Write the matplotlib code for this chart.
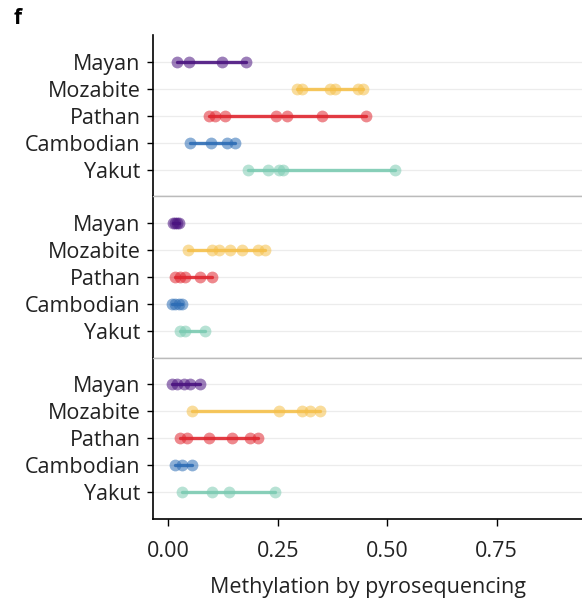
import matplotlib.pyplot as plt

plt.rcParams['font.family'] = ['Open Sans', 'DejaVu Sans']

groups = ['Mayan', 'Mozabite', 'Pathan', 'Cambodian', 'Yakut']
colors = ['#4b1480', '#f5c04a', '#e0262f', '#2d6db5', '#7ccbb2']

# methylation values per panel, per population
panel1 = [
    [0.02, 0.048, 0.122, 0.178],
    [0.294, 0.305, 0.37, 0.381, 0.434, 0.445],
    [0.094, 0.107, 0.13, 0.247, 0.271, 0.351, 0.452],
    [0.049, 0.097, 0.135, 0.153],
    [0.183, 0.227, 0.252, 0.262, 0.518],
]
panel2 = [
    [0.01, 0.015, 0.02, 0.025],
    [0.044, 0.1, 0.115, 0.142, 0.168, 0.206, 0.221],
    [0.016, 0.027, 0.039, 0.073, 0.1],
    [0.008, 0.016, 0.024, 0.031],
    [0.027, 0.039, 0.084],
]
panel3 = [
    [0.008, 0.02, 0.035, 0.05, 0.073],
    [0.054, 0.252, 0.305, 0.324, 0.347],
    [0.027, 0.043, 0.092, 0.145, 0.187, 0.206],
    [0.016, 0.031, 0.054],
    [0.031, 0.1, 0.138, 0.244],
]
panels = [panel1, panel2, panel3]
xticks = [0.0, 0.25, 0.5, 0.75]

fig, axes = plt.subplots(3, 1, figsize=(5.82, 6.06), dpi=100, sharex=True)
fig.subplots_adjust(left=153/582, right=1.0, bottom=1-519/606, top=1-35/606, hspace=0)

for i, (ax, data) in enumerate(zip(axes, panels)):
    for j, vals in enumerate(data):
        ax.axhline(j, color='#ececec', lw=0.9, zorder=0)
        ax.plot([min(vals), max(vals)], [j, j], color=colors[j], lw=2.4, alpha=0.9,
                solid_capstyle='round', zorder=2)
        ax.plot(vals, [j]*len(vals), 'o', color=colors[j], ms=8.5, alpha=0.55,
                markeredgewidth=0, zorder=3)
    ax.set_ylim(4.98, -0.98)
    ax.set_yticks(range(len(groups)))
    ax.set_yticklabels(groups, fontsize=15.5, color='#222222')
    ax.set_xlim(-0.035, 0.945)
    ax.set_xticks(xticks)
    ax.spines['right'].set_visible(False)
    ax.spines['left'].set_color('black')
    ax.spines['left'].set_linewidth(1.2)
    ax.tick_params(axis='y', length=4, width=1, color='black', pad=5)
    if i > 0:
        ax.spines['top'].set_color('#bbbbbb')
        ax.spines['top'].set_linewidth(1.0)
    else:
        ax.spines['top'].set_visible(False)
    if i < 2:
        ax.spines['bottom'].set_color('#bbbbbb')
        ax.spines['bottom'].set_linewidth(1.0)
        ax.tick_params(axis='x', length=0)
    else:
        ax.spines['bottom'].set_color('black')
        ax.spines['bottom'].set_linewidth(1.2)
        ax.tick_params(axis='x', length=5, width=1, labelsize=15.5,
                       labelcolor='#222222', pad=11)

axes[2].set_xticklabels(['0.00', '0.25', '0.50', '0.75'])
axes[2].set_xlabel('Methylation by pyrosequencing', fontsize=15.5, color='#222222', labelpad=11)
fig.text(14/582, 1-18/606, 'f', fontsize=15, fontweight='bold', va='center')

fig.savefig('out.png', dpi=100)
